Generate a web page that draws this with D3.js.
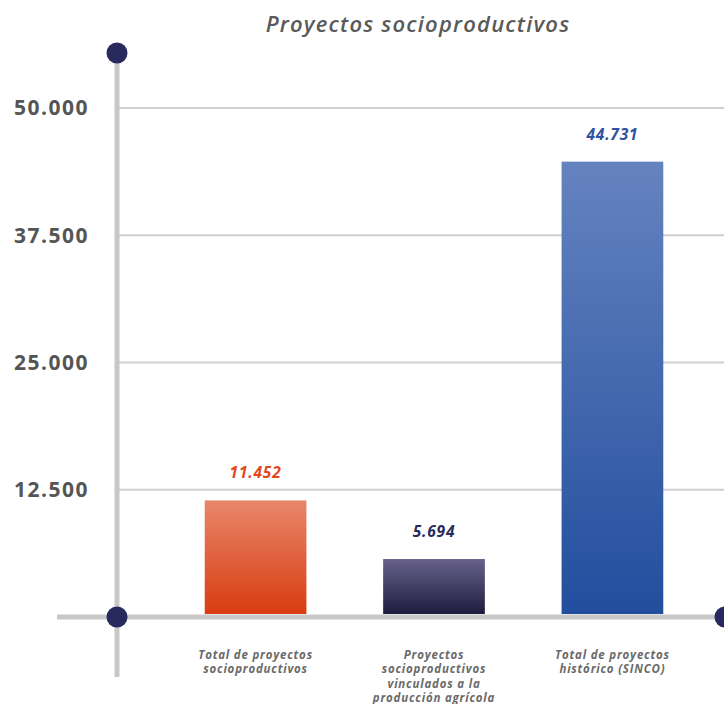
<!DOCTYPE html>
<html>
<head>
<meta charset="utf-8">
<script src="https://cdn.jsdelivr.net/npm/d3@7"></script>
<style>
  html, body { margin: 0; padding: 0; background: #fff; }
  svg { display: block; font-family: "Open Sans", "Noto Sans", sans-serif; }
</style>
</head>
<body>
<div id="chart"></div>
<script>
// Proyectos socioproductivos — three totals
const categories = [
  ["Total de proyectos", "socioproductivos"],
  ["Proyectos", "socioproductivos", "vinculados a la", "producción agrícola"],
  ["Total de proyectos", "histórico (SINCO)"]
];
const values = [11452, 5694, 44731];
const valueLabels = ["11.452", "5.694", "44.731"];
const tickValues = [12500, 25000, 37500, 50000];
const tickLabels = ["12.500", "25.000", "37.500", "50.000"];

const W = 724, H = 704;
const axisX = 117, baseY = 617;

const svg = d3.select("#chart").append("svg")
  .attr("width", W).attr("height", H);

const defs = svg.append("defs");
const gradients = [
  ["#e8876b", "#d83c10"],
  ["#68628c", "#1d1c3c"],
  ["#6583bf", "#224e9e"]
];
gradients.forEach((g, i) => {
  const lg = defs.append("linearGradient")
    .attr("id", "grad" + i).attr("x1", 0).attr("y1", 0).attr("x2", 0).attr("y2", 1);
  lg.append("stop").attr("offset", "0%").attr("stop-color", g[0]);
  lg.append("stop").attr("offset", "100%").attr("stop-color", g[1]);
});
const labelColors = ["#e2461c", "#2a2a5c", "#2e50a0"];

const x = d3.scaleBand()
  .domain(d3.range(values.length))
  .range([128, 740])
  .paddingInner(0.43)
  .paddingOuter(0.43);

const y = d3.scaleLinear().domain([0, 50000]).range([baseY, 108]);

// title
svg.append("text")
  .attr("x", 418).attr("y", 32)
  .attr("text-anchor", "middle")
  .attr("font-size", 22).attr("font-weight", 600).attr("font-style", "italic")
  .attr("letter-spacing", 1.2)
  .attr("fill", "#5a5a5a")
  .text("Proyectos socioproductivos");

// gridlines
svg.append("g").selectAll("line").data(tickValues).join("line")
  .attr("x1", axisX).attr("x2", W)
  .attr("y1", d => y(d)).attr("y2", d => y(d))
  .attr("stroke", "#cfcfcf").attr("stroke-width", 2);

// y tick labels
svg.append("g").selectAll("text").data(tickValues).join("text")
  .attr("x", 89).attr("y", d => y(d))
  .attr("dy", "0.35em")
  .attr("text-anchor", "end")
  .attr("font-size", 21).attr("font-weight", 700)
  .attr("letter-spacing", 1.5)
  .attr("fill", "#555")
  .text((d, i) => tickLabels[i]);

// bars
svg.append("g").selectAll("rect").data(values).join("rect")
  .attr("x", (d, i) => x(i))
  .attr("width", x.bandwidth())
  .attr("y", d => y(d))
  .attr("height", d => y(0) - y(d) - 3)
  .attr("fill", (d, i) => `url(#grad${i})`);

// value labels
svg.append("g").selectAll("text").data(values).join("text")
  .attr("x", (d, i) => x(i) + x.bandwidth() / 2)
  .attr("y", d => y(d) - 22)
  .attr("text-anchor", "middle")
  .attr("font-size", 15.5).attr("font-weight", 700).attr("font-style", "italic")
  .attr("letter-spacing", 0.8)
  .attr("fill", (d, i) => labelColors[i])
  .text((d, i) => valueLabels[i]);

// axes
svg.append("line")
  .attr("x1", axisX).attr("x2", axisX).attr("y1", 54).attr("y2", 677)
  .attr("stroke", "#c8c8c8").attr("stroke-width", 5);
svg.append("line")
  .attr("x1", 57).attr("x2", W).attr("y1", baseY).attr("y2", baseY)
  .attr("stroke", "#c8c8c8").attr("stroke-width", 5);

// axis end dots
[[axisX, 53], [axisX, baseY], [725, baseY]].forEach(p => {
  svg.append("circle").attr("cx", p[0]).attr("cy", p[1]).attr("r", 10.5)
    .attr("fill", "#282a5e");
});

// category labels
const cat = svg.append("g").selectAll("text").data(categories).join("text")
  .attr("x", (d, i) => x(i) + x.bandwidth() / 2)
  .attr("y", 659)
  .attr("text-anchor", "middle")
  .attr("font-size", 11.5).attr("font-weight", 700).attr("font-style", "italic")
  .attr("letter-spacing", 0.8)
  .attr("fill", "#6a6a6a");
cat.selectAll("tspan").data(d => d).join("tspan")
  .attr("x", function() { return d3.select(this.parentNode).attr("x"); })
  .attr("dy", (d, j) => j === 0 ? 0 : 14.3)
  .text(d => d);
</script>
</body>
</html>
